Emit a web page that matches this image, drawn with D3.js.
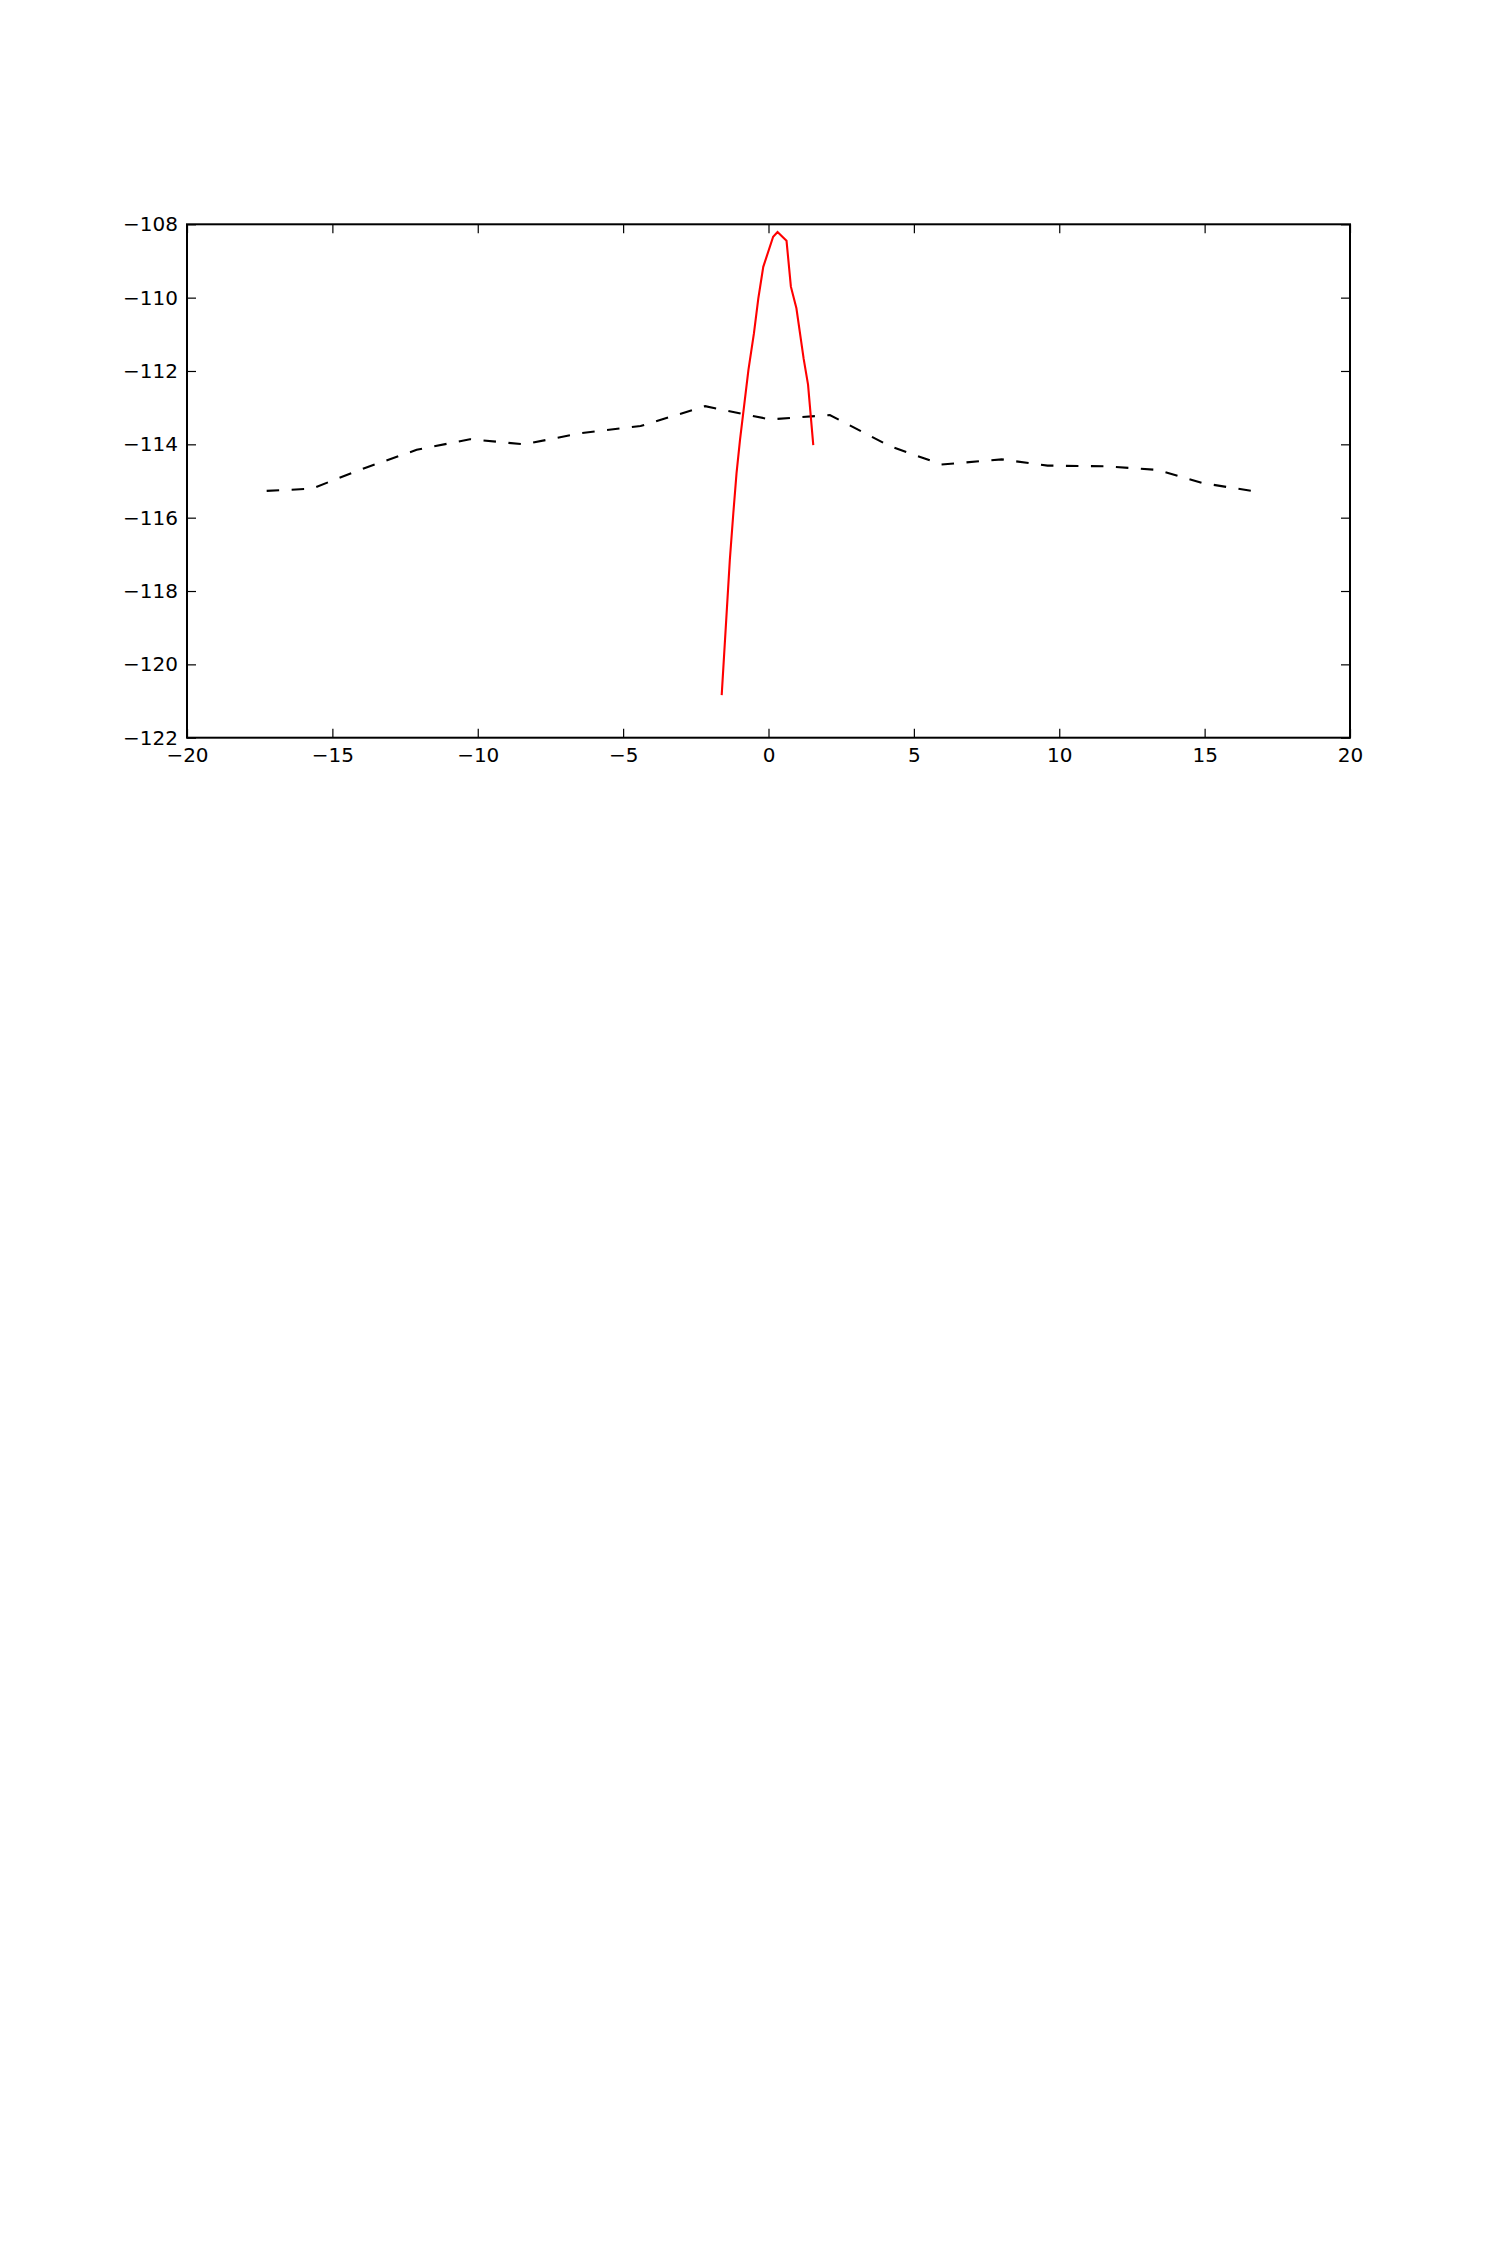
<!DOCTYPE html>
<meta charset="utf-8">
<body style="margin:0;background:#fff">
<script src="https://d3js.org/d3.v7.min.js"></script>
<div id="chart"></div>
<script>
// dashed black series
const blackX = [-17.26, -15.71, -13.9, -12.1, -10.27, -8.4, -6.5, -4.4, -2.18, 0.05, 2.11, 4.17, 5.95, 8.02, 9.6, 11.6, 13.4, 14.95, 16.62];
const blackY = [-115.27, -115.21, -114.65, -114.15, -113.86, -114.0, -113.7, -113.5, -112.96, -113.32, -113.2, -114.05, -114.55, -114.41, -114.58, -114.6, -114.7, -115.06, -115.27];

// red series
const redX = [-1.61, -1.33, -1.21, -1.1, -0.98, -0.69, -0.5, -0.35, -0.18, 0.16, 0.31, 0.62, 0.77, 0.96, 1.21, 1.36, 1.54];
const redY = [-120.84, -117.15, -115.88, -114.79, -113.88, -111.97, -110.97, -110.02, -109.16, -108.34, -108.21, -108.45, -109.70, -110.29, -111.67, -112.37, -114.02];

const xTicks = [-20, -15, -10, -5, 0, 5, 10, 15, 20];
const yTicks = [-122, -120, -118, -116, -114, -112, -110, -108];

const W = 1500, H = 2250;
const mLeft = 187, mRight = 1350, mTop = 224.3, mBottom = 737.7;

const svg = d3.select("#chart")
    .append("svg")
    .attr("width", W)
    .attr("height", H)
    .style("display", "block");

const x = d3.scaleLinear().domain([-20, 20]).range([mLeft, mRight]);
const y = d3.scaleLinear().domain([-122, -108]).range([mBottom, mTop]);

const tickLen = 9;
const font = "'DejaVu Sans', sans-serif";

function styleAxis(g) {
    g.select(".domain").remove();
    g.selectAll(".tick line").attr("stroke", "#000").attr("stroke-width", 1.2);
    g.selectAll("text").attr("font-family", font).attr("font-size", 20).attr("fill", "#000");
}

svg.append("g")
    .attr("transform", `translate(0,${mBottom})`)
    .call(d3.axisBottom(x).tickValues(xTicks).tickSizeInner(-tickLen).tickSizeOuter(0).tickPadding(10))
    .call(styleAxis);
svg.append("g")
    .attr("transform", `translate(0,${mTop})`)
    .call(d3.axisTop(x).tickValues(xTicks).tickSizeInner(-tickLen).tickSizeOuter(0).tickFormat(""))
    .call(styleAxis);
svg.append("g")
    .attr("transform", `translate(${mLeft},0)`)
    .call(d3.axisLeft(y).tickValues(yTicks).tickSizeInner(-tickLen).tickSizeOuter(0).tickPadding(9))
    .call(styleAxis);
svg.append("g")
    .attr("transform", `translate(${mRight},0)`)
    .call(d3.axisRight(y).tickValues(yTicks).tickSizeInner(-tickLen).tickSizeOuter(0).tickFormat(""))
    .call(styleAxis);

const line = d3.line().x(d => x(d[0])).y(d => y(d[1]));

svg.append("path")
    .datum(d3.zip(blackX, blackY))
    .attr("d", line)
    .attr("fill", "none")
    .attr("stroke", "#000")
    .attr("stroke-width", 2.1)
    .attr("stroke-dasharray", "12.5,12.5");

svg.append("path")
    .datum(d3.zip(redX, redY))
    .attr("d", line)
    .attr("fill", "none")
    .attr("stroke", "#ff0000")
    .attr("stroke-width", 2.1);

// frame
svg.append("rect")
    .attr("x", mLeft)
    .attr("y", mTop)
    .attr("width", mRight - mLeft)
    .attr("height", mBottom - mTop)
    .attr("fill", "none")
    .attr("stroke", "#000")
    .attr("stroke-width", 2);
</script>
</body>
